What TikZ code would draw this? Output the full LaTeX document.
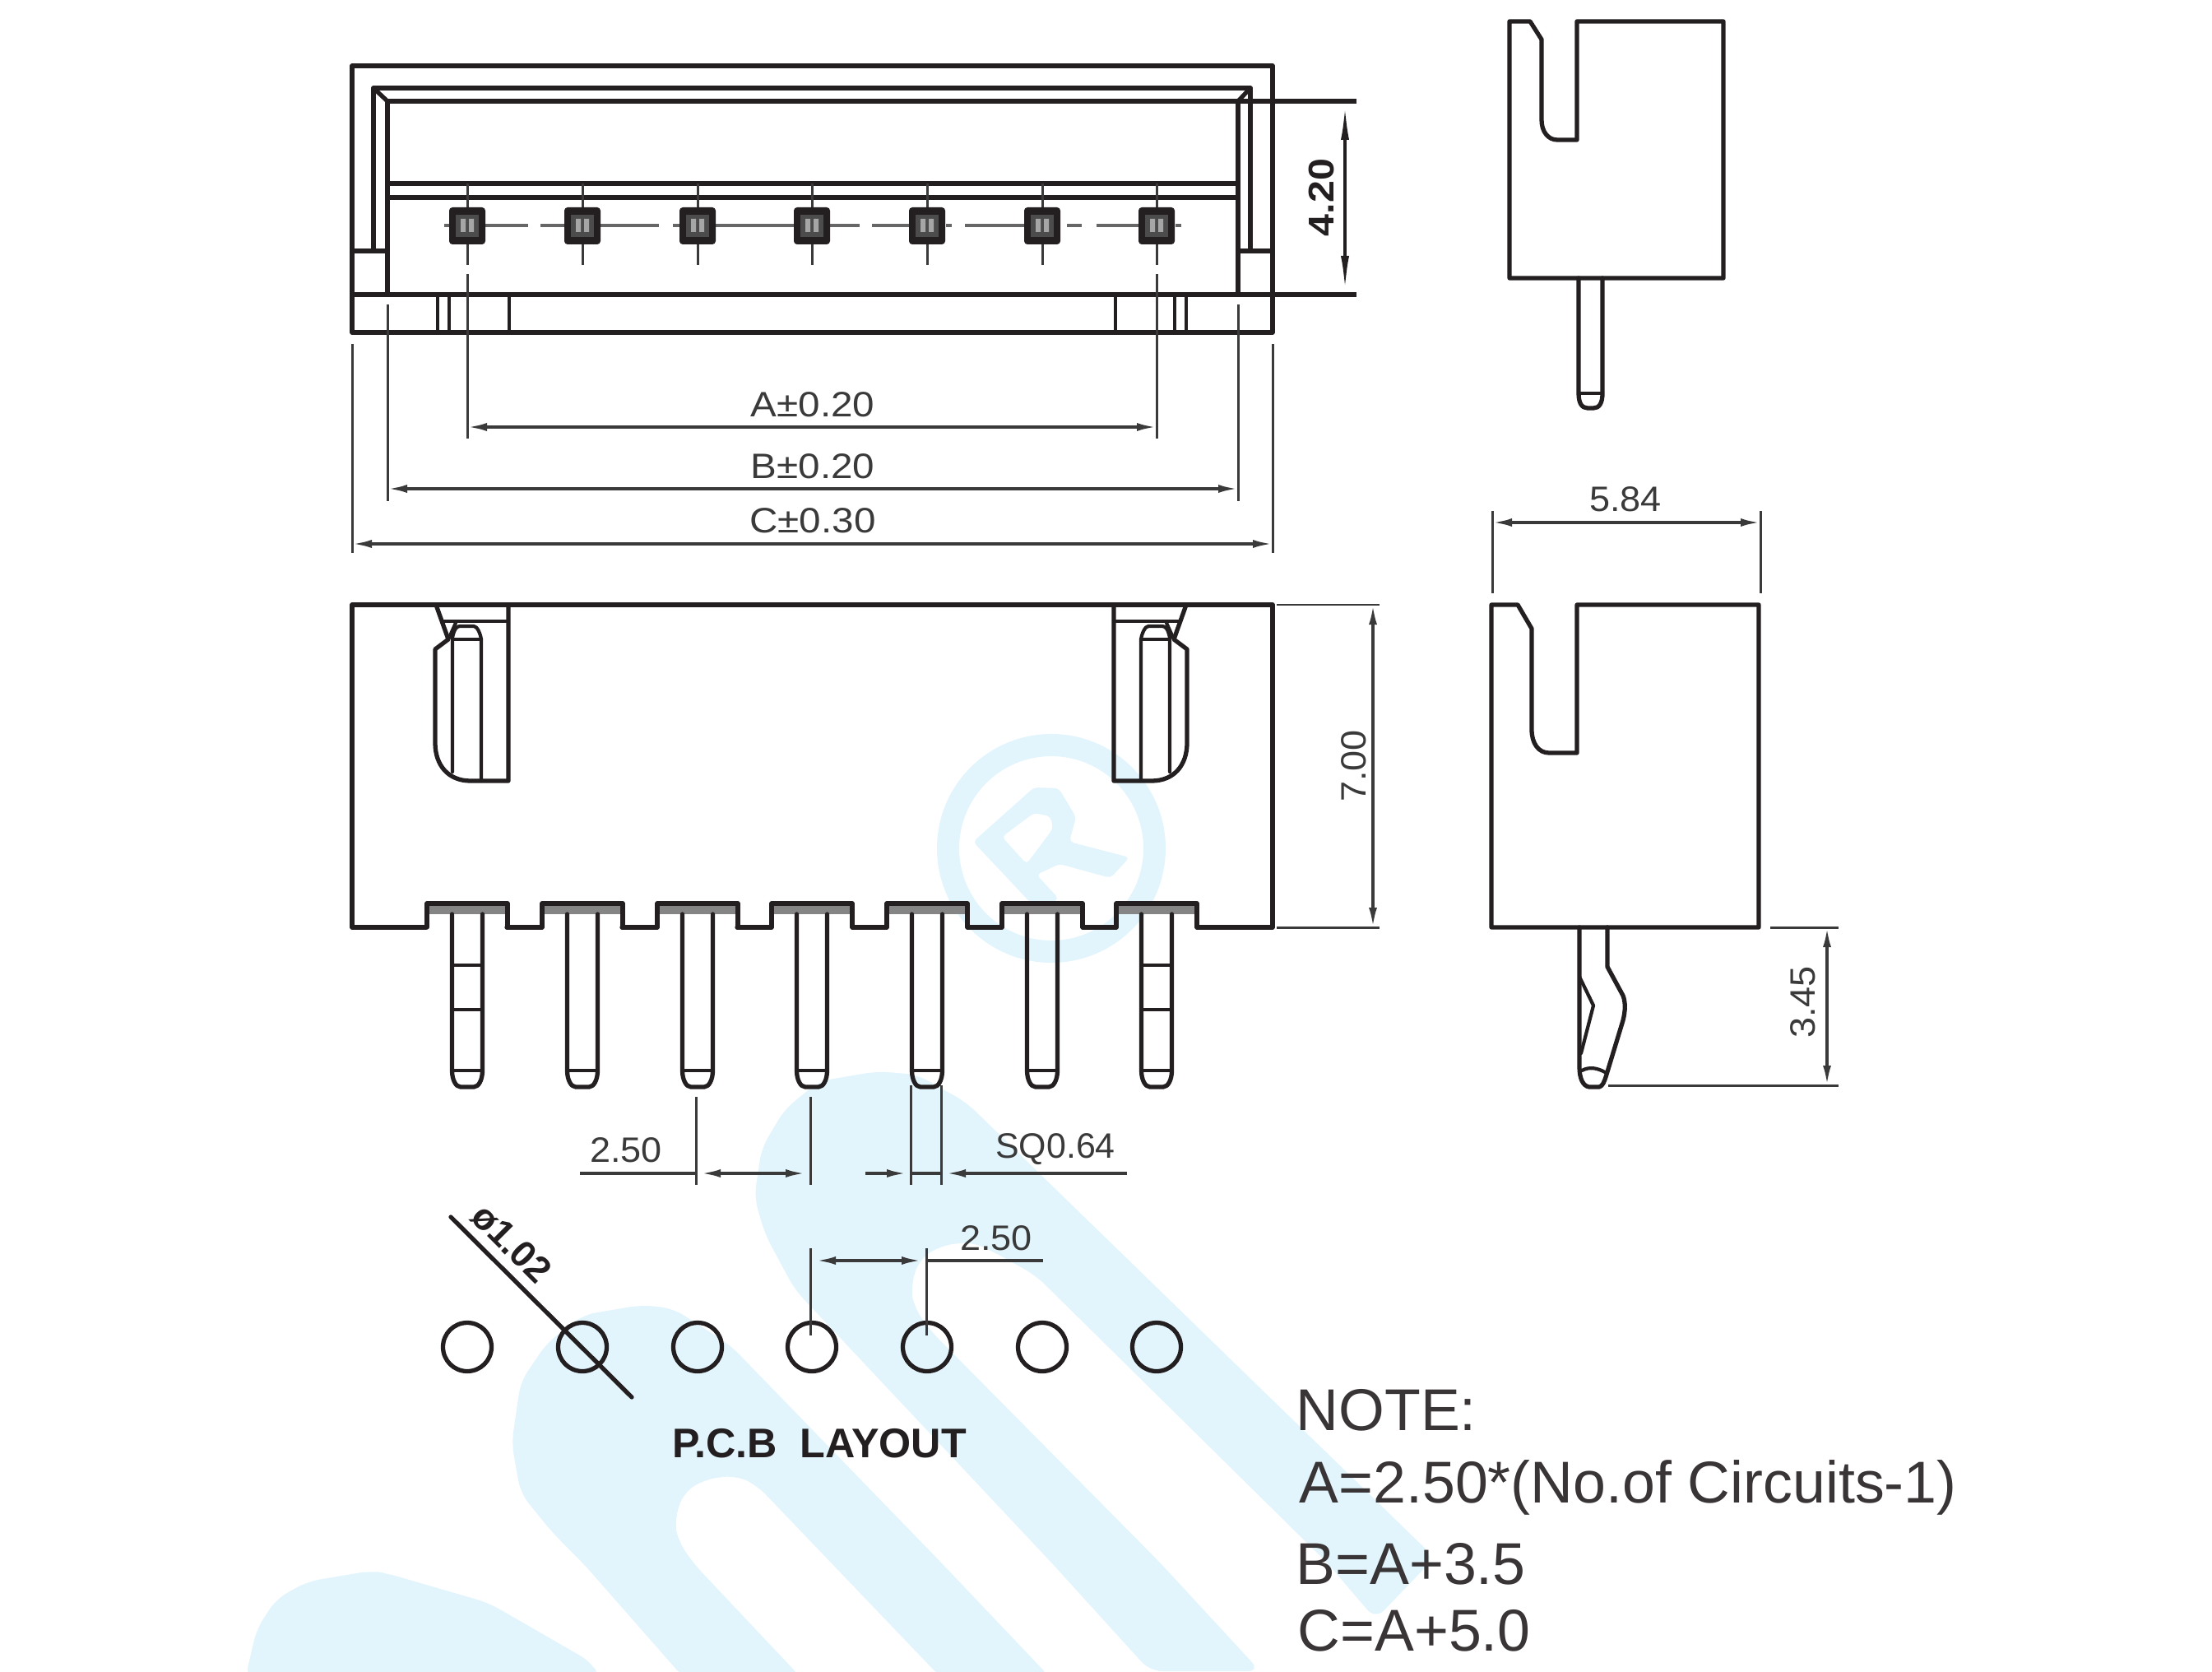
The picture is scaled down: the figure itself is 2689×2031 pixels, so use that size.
\documentclass[tikz,border=0pt]{standalone}
\usepackage{fontspec}
\setmainfont{Liberation Sans}
\newfontfamily\dimwide[FakeStretch=1.11]{Liberation Sans}
\newfontfamily\dimmid[FakeStretch=1.05]{Liberation Sans}
\usetikzlibrary{arrows.meta}
\definecolor{inkc}{HTML}{231F20}
\definecolor{dimc}{HTML}{3A3A3A}
\definecolor{wmark}{HTML}{E2F4FC}
\tikzset{
  body/.style={draw=inkc,line width=1.5pt,line cap=round,line join=round},
  thinbody/.style={draw=inkc,line width=1.2pt,line cap=round,line join=round},
  extline/.style={draw=dimc,line width=0.85pt},
  dimline/.style={draw=dimc,line width=1pt},
  dimarrow/.style={draw=dimc,line width=1pt,{Latex[length=2.4mm,width=1mm]}-{Latex[length=2.4mm,width=1mm]}},
  endarrow/.style={draw=dimc,line width=1pt,-{Latex[length=2.4mm,width=1mm]}},
  startarrow/.style={draw=dimc,line width=1pt,{Latex[length=2.4mm,width=1mm]}-},
  centreline/.style={draw=black!60,line width=1pt},
  wide/.style={text=dimc,inner sep=0pt,font=\dimwide\fontsize{12.2pt}{14pt}\selectfont},
  midd/.style={text=dimc,inner sep=0pt,font=\dimmid\fontsize{12.2pt}{14pt}\selectfont},
  plain/.style={text=dimc,inner sep=0pt,font=\fontsize{12.2pt}{14pt}\selectfont},
  boldlab/.style={text=inkc,inner sep=0pt,font=\bfseries\fontsize{14.3pt}{16pt}\selectfont},
  notetext/.style={text=inkc!90,inner sep=0pt,anchor=west,font=\fontsize{20.4pt}{23pt}\selectfont},
  wm/.style={fill=wmark,draw=none}
}
\begin{document}
\begin{tikzpicture}[x=0.1mm,y=-0.1mm]
\path[use as bounding box] (0,0) rectangle (2689,2031);
\begin{scope}
\clip (0,0) rectangle (2689,2031);
% watermark: R ring
\fill[wm,even odd rule] (1278,1031) circle[radius=139] (1278,1031) circle[radius=112];
\fill[wm,even odd rule,rounded corners=0.5mm]
  (1183,1023)--(1257,957)--(1287,958)--(1308,993)--(1300,1023)--(1373,1042)--(1350,1067)--(1288,1050)--(1260,1063)--(1287,1092)--(1263,1108)--cycle
  (1218,1017)--(1257,988)--(1277,992)--(1280,1007)--(1248,1050)--cycle;
% watermark: upper U
\fill[wm,rounded corners=1.5mm]
  (1398,2031)--(1279,1900)--(966,1567)--(930,1500)--(917,1455)--(926,1395)--(954,1348)--(996,1314)--(1066,1302)--(1115,1306)--(1175,1340)
  --(1744,1893)--(1672,1968)--(1614,1900)--(1259,1550)--(1207,1521)--(1181,1509)--(1143,1514)--(1117,1531)--(1107,1565)--(1111,1588)--(1130,1616)--(1411,1900)--(1532,2031)--cycle;
% watermark: middle U
\fill[wm,rounded corners=1.5mm]
  (832,2040)--(709,1900)--(671,1862)--(633,1815)--(622,1754)--(633,1679)--(665,1632)--(709,1598)--(779,1586)--(818,1590)--(888,1635)
  --(1145,1900)--(1278,2040)--(1145,2040)--(1011,1900)--(920,1805)--(894,1793)--(856,1798)--(830,1815)--(820,1849)--(824,1872)--(843,1900)--(975,2040)--cycle;
% watermark: lower shape
\fill[wm,rounded corners=1.5mm]
  (298,2040)--(312,1980)--(336,1943)--(374,1922)--(451,1909)--(470,1912)--(594,1948)--(719,2020)--(730,2040)--cycle;
\end{scope}

% ----- top view
\draw[body] (428,80) rectangle (1547,404);
\draw[body] (428,358)--(1547,358);
\draw[body] (454,305)--(454,107)--(1520,107)--(1520,305);
\draw[body] (471,358)--(471,123)--(1505,123)--(1505,358);
\draw[body] (454,107)--(471,123) (1520,107)--(1505,123);
\draw[body] (428,305)--(471,305) (1505,305)--(1547,305);
\draw[body] (471,223)--(1505,223) (471,240)--(1505,240);
\foreach \xa in {532,546,619,1356,1428,1442} \draw[thinbody] (\xa,358)--(\xa,404);
% centre lines and pins
\foreach \xa/\xb in {540/548,590/642,657/700,730/801,818/840,870/980,1008/1045,1060/1105,1150/1157,1173/1245,1297/1315,1333/1400,1429/1436}
  \draw[centreline] (\xa,274)--(\xb,274);
\foreach \c in {568,708,848,987,1127,1267,1406}{
  \draw[extline] (\c,223)--(\c,322);
  \fill[inkc,rounded corners=0.4mm] (\c-22,252) rectangle (\c+22,297);
  \fill[black!70] (\c-14,261) rectangle (\c+14,288);
  \fill[black!35] (\c-8,266) rectangle (\c-2,282) (\c+2,266) rectangle (\c+8,282);
}
% 4.20
\draw[body,line cap=butt] (1505,123)--(1649,123) (1547,358)--(1649,358);
\draw[draw=inkc,line width=1.1pt,{Latex[length=4.5mm,width=1mm]}-{Latex[length=4.5mm,width=1mm]}] (1635,125)--(1635,356);
\node[boldlab,rotate=90,font=\bfseries\dimwide\fontsize{12.4pt}{14pt}\selectfont] (t420) at (1606,240) {4.20};

% A B C dimensions
\draw[extline] (568,333)--(568,533) (1406,333)--(1406,533);
\draw[extline] (471,370)--(471,609) (1505,370)--(1505,609);
\draw[extline] (428,418)--(428,672) (1547,418)--(1547,672);
\draw[dimarrow] (568,519)--(1406,519);
\draw[dimarrow] (471,594)--(1505,594);
\draw[dimarrow] (428,661)--(1547,661);
\node[wide] (ta) at (988,492) {A±0.20};
\node[wide] (tb) at (988,567) {B±0.20};
\node[wide] (tc) at (988,633) {C±0.30};

% ----- front view
\draw[body] (518,1127)--(428,1127)--(428,735)--(1547,735)--(1547,1127)--(1455,1127);
\foreach \xa/\xb in {616/659,756/799,896/938,1036/1078,1176/1218,1316/1357}
  \draw[body] (\xa,1127)--(\xb,1127);
\foreach \c in {568,708,848,987,1127,1267,1406}{
  \fill[black!48] (\c-47,1100) rectangle (\c+47,1111);
  \draw[body] (\c-49,1127)--(\c-49,1098)--(\c+49,1098)--(\c+49,1127);
  \draw[body] (\c-18.5,1111)--(\c-18.5,1301) .. controls (\c-18.5,1312) and (\c-14,1321) .. (\c-8,1321)
     --(\c+8,1321) .. controls (\c+14,1321) and (\c+18.5,1312) .. (\c+18.5,1301)--(\c+18.5,1111);
  \draw[thinbody] (\c-18.5,1301)--(\c+18.5,1301);
}
\foreach \c in {568,1406} \draw[thinbody] (\c-18.5,1173)--(\c+18.5,1173) (\c-18.5,1227)--(\c+18.5,1227);
% latches
\foreach \m/\s in {0/1,1972/-1}{
  \draw[body] (\m+\s*618,735)--(\m+\s*618,949)--(\m+\s*572,949) .. controls (\m+\s*545,949) and (\m+\s*529,930) .. (\m+\s*529,903)
     --(\m+\s*529,789)--(\m+\s*545,777)--(\m+\s*530,735);
  \draw[thinbody] (\m+\s*538,755)--(\m+\s*618,755);
  \draw[thinbody] (\m+\s*550,938)--(\m+\s*550,775) .. controls (\m+\s*552,765) and (\m+\s*555,761) .. (\m+\s*559,761)
     --(\m+\s*576,761) .. controls (\m+\s*580,761) and (\m+\s*584,770) .. (\m+\s*585,777)--(\m+\s*585,949);
  \draw[thinbody] (\m+\s*550,777)--(\m+\s*585,777);
  \draw[thinbody] (\m+\s*545,777)--(\m+\s*554,757);
}
% 7.00
\draw[extline] (1552,735)--(1677,735) (1552,1127)--(1677,1127);
\draw[dimarrow] (1669,735)--(1669,1127);
\node[midd,rotate=90] (t700) at (1646,931) {7.00};

% ----- upper side view
\draw[body] (1835,338)--(1835,26)--(1860,26)--(1874,48)--(1874,146) .. controls (1874,160) and (1882,170) .. (1893,170)
  --(1917,170)--(1917,26)--(2095,26)--(2095,338)--cycle;
\draw[body] (1919,338)--(1919,478) .. controls (1919,490) and (1923,496) .. (1930,496)--(1937,496) .. controls (1944,496) and (1948,490) .. (1948,478)--(1948,338);
\draw[thinbody] (1919,478)--(1948,478);

% ----- lower side view
\draw[body] (1813,1127)--(1813,735)--(1845,735)--(1862,764)--(1862,887) .. controls (1862,903) and (1870,915) .. (1883,915)
  --(1917,915)--(1917,735)--(2138,735)--(2138,1127)--cycle;
\draw[body] (1920,1127)--(1920,1297) .. controls (1920,1310) and (1924,1320) .. (1932,1321)--(1944,1321) .. controls (1948,1320) and (1950,1315) .. (1952,1309)
  --(1973,1240) .. controls (1976,1228) and (1976,1218) .. (1973,1210)--(1954,1175)--(1954,1127);
\draw[thinbody] (1920,1187)--(1937,1222)--(1922,1280);
\draw[thinbody] (1923,1301) .. controls (1932,1296) and (1942,1298) .. (1951,1303);
% 5.84
\draw[extline] (1814,621)--(1814,721) (2140,621)--(2140,721);
\draw[dimarrow] (1814,635)--(2140,635);
\node[midd] (t584) at (1976,607) {5.84};
% 3.45
\draw[extline] (2152,1127)--(2235,1127) (1955,1319)--(2235,1319);
\draw[dimarrow] (2221,1127)--(2221,1319);
\node[midd,rotate=90] (t345) at (2192,1218) {3.45};

% ----- pin pitch dimensions
\draw[extline] (846,1333)--(846,1440) (985,1333)--(985,1440);
\draw[dimline] (705,1426)--(846,1426);
\draw[dimarrow] (852,1426)--(979,1426);
\node[midd] (t250a) at (761,1398) {2.50};
\draw[extline] (1107,1319)--(1107,1440) (1144,1319)--(1144,1440);
\draw[endarrow] (1052,1426)--(1102,1426);
\draw[dimline] (1107,1426)--(1144,1426);
\draw[startarrow] (1150,1426)--(1370,1426);
\node[plain] (tsq) at (1283,1397) {SQ0.64};

% ----- PCB layout
\foreach \c in {568,708,848,987,1127,1267,1406}
  \draw[body] (\c,1637) circle[radius=29.5];
\draw[extline] (985,1517)--(985,1623) (1126,1517)--(1126,1623);
\draw[dimarrow] (992,1532)--(1120,1532);
\draw[dimline] (1126,1532)--(1268,1532);
\node[midd] (t250b) at (1211,1505) {2.50};
\draw[body] (548,1479)--(768,1698);
\node[boldlab,rotate=-45,font=\bfseries\fontsize{12.8pt}{15pt}\selectfont] (tphi) at (622,1511) {ø1.02};
\node[boldlab] (tpcb) at (996,1754) {P.C.B\ \ LAYOUT};

% ----- notes
\node[notetext] (n1) at (1575,1714) {NOTE:};
\node[notetext] (n2) at (1579,1808) {A=2.50*(No.of Circuits-1)};
\node[notetext] (n3) at (1575,1901) {B=A+3.5};
\node[notetext] (n4) at (1577,1982) {C=A+5.0};
\end{tikzpicture}
\end{document}
